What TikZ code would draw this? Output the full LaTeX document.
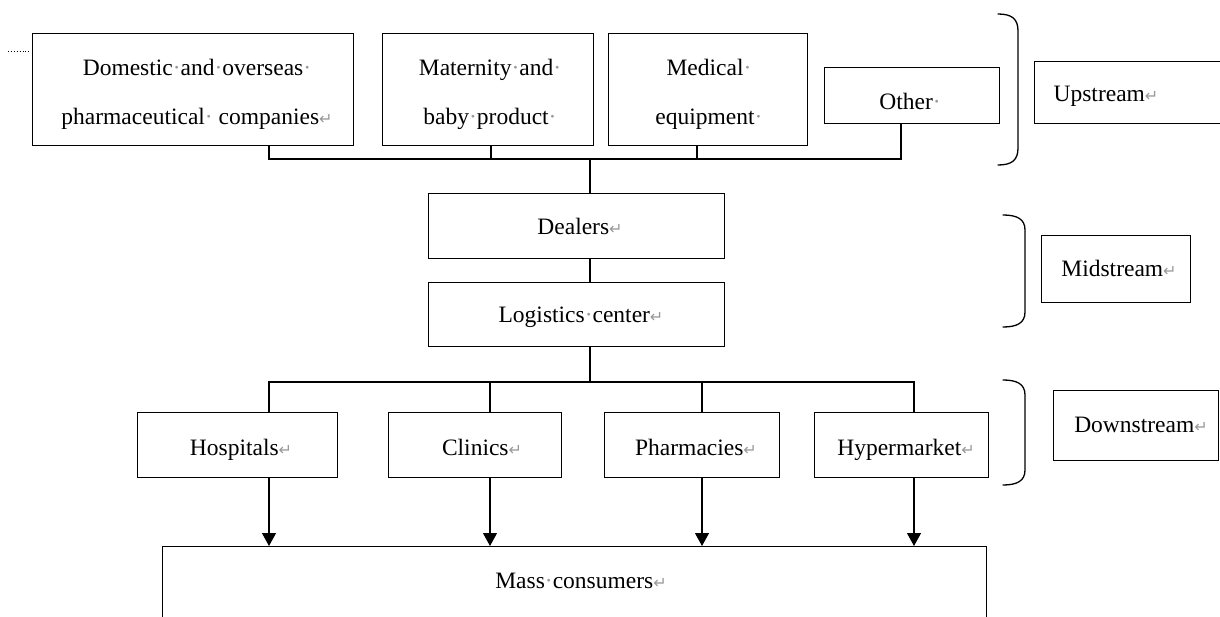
\documentclass[tikz,border=0pt]{standalone}
\usepackage{fontspec}
\setmainfont{Liberation Serif}
\newfontfamily\markfont{DejaVu Sans}
\usetikzlibrary{arrows.meta}
\definecolor{markgray}{gray}{0.6}
% Word-style formatting marks: space dot and paragraph return
\newcommand\dt{{\color{markgray}\char"00B7}}
\newcommand\rt{{\markfont\color{markgray}\fontsize{16}{16}\selectfont\char"21B5}}
\begin{document}
\begin{tikzpicture}[x=1pt,y=-1pt,
  box/.style={draw, line width=1.2pt, inner sep=0pt, anchor=north west},
  lbl/.style={font=\fontsize{23.5}{49}\selectfont, inner sep=0pt, align=center, anchor=base},
  link/.style={line width=1.2pt},
  arr/.style={link, -{Triangle[length=13pt,width=14pt]}},
  brace/.style={line width=1.3pt, line cap=round}]
\clip (0,0) rectangle (1220,617);

% upstream boxes (two-line labels sit on the baseline of their last line)
\node[box, minimum width=321pt, minimum height=112pt] (dom) at (32,33) {};
\node[box, minimum width=211pt, minimum height=112pt] (mat) at (382,33) {};
\node[box, minimum width=199pt, minimum height=112pt] (med) at (608,33) {};
\node[box, minimum width=175pt, minimum height=56pt] (oth) at (824,67) {};
\node[lbl] (domT) at (197,125) {Domestic\dt and\dt overseas\dt\\pharmaceutical\dt{} companies\rt};
\node[lbl] (matT) at (490,125) {Maternity\dt and\dt\\baby\dt product\dt};
\node[lbl] (medT) at (709,125) {Medical\dt\\equipment\dt};
\node[lbl] (othT) at (910,110) {Other\dt};
\draw[dotted, line width=0.9pt] (8,51) -- (30,51);

% midstream boxes
\node[box, minimum width=296pt, minimum height=65pt] (deal) at (428,193) {};
\node[box, minimum width=296pt, minimum height=64pt] (log) at (428,282) {};
\node[lbl] (dealT) at (580,235) {Dealers\rt};
\node[lbl] (logT) at (581,323) {Logistics\dt center\rt};

% downstream boxes
\node[box, minimum width=200pt, minimum height=65pt] (hosp) at (137,412) {};
\node[box, minimum width=173pt, minimum height=65pt] (clin) at (388,412) {};
\node[box, minimum width=175pt, minimum height=65pt] (phar) at (604,412) {};
\node[box, minimum width=174pt, minimum height=65pt] (hyp) at (814,412) {};
\node[lbl] (hospT) at (241,455) {Hospitals\rt};
\node[lbl] (clinT) at (482,455) {Clinics\rt};
\node[lbl] (pharT) at (696,455) {Pharmacies\rt};
\node[lbl] (hypT) at (906,455) {Hypermarket\rt};

% consumers
\node[box, minimum width=824pt, minimum height=120pt] (mass) at (162,546) {};
\node[lbl] (massT) at (581,588) {Mass\dt consumers\rt};

% stage labels
\node[box, minimum width=186pt, minimum height=62pt] (up) at (1034,61) {};
\node[box, minimum width=149pt, minimum height=67pt] (mid) at (1041,235) {};
\node[box, minimum width=165pt, minimum height=70pt] (down) at (1053,390) {};
\node[lbl] (upT) at (1106,102) {Upstream\rt};
\node[lbl] (midT) at (1119,277) {Midstream\rt};
\node[lbl] (downT) at (1141,432) {Downstream\rt};

% braces
\draw[brace] (998,14) .. controls (1012,14) and (1018,19) .. (1018,31) -- (1018,148)
  .. controls (1018,160) and (1012,165) .. (998,165);
\draw[brace] (1003,215) .. controls (1017,215) and (1025,219) .. (1025,230) -- (1025,312)
  .. controls (1025,323) and (1017,327) .. (1003,327);
\draw[brace] (1003,380) .. controls (1017,380) and (1025,384) .. (1025,395) -- (1025,470)
  .. controls (1025,481) and (1017,485) .. (1003,485);

% connector columns
\coordinate (xa) at (269,0);
\coordinate (xb) at (491,0);
\coordinate (xc) at (697,0);
\coordinate (xd) at (901,0);
\coordinate (xh) at (269,0);
\coordinate (xi) at (490,0);
\coordinate (xj) at (702,0);
\coordinate (xk) at (914,0);
\coordinate (j1) at (590,159);
\coordinate (j2) at (590,382);

% upstream bus
\draw[link] (dom.south -| xa) |- (j1);
\draw[link] (oth.south -| xd) |- (j1);
\draw[link] (mat.south -| xb) -- (xb |- j1);
\draw[link] (med.south -| xc) -- (xc |- j1);
\draw[link] (j1) -- (deal.north -| j1);
\draw[link] (deal.south -| j1) -- (log.north -| j1);

% downstream bus
\draw[link] (log.south -| j2) -- (j2);
\draw[link] (j2) -| (hosp.north -| xh);
\draw[link] (j2) -| (hyp.north -| xk);
\draw[link] (clin.north -| xi) -- (xi |- j2);
\draw[link] (phar.north -| xj) -- (xj |- j2);

% arrows to consumers
\draw[arr] (hosp.south -| xh) -- (mass.north -| xh);
\draw[arr] (clin.south -| xi) -- (mass.north -| xi);
\draw[arr] (phar.south -| xj) -- (mass.north -| xj);
\draw[arr] (hyp.south -| xk) -- (mass.north -| xk);
\end{tikzpicture}
\end{document}
